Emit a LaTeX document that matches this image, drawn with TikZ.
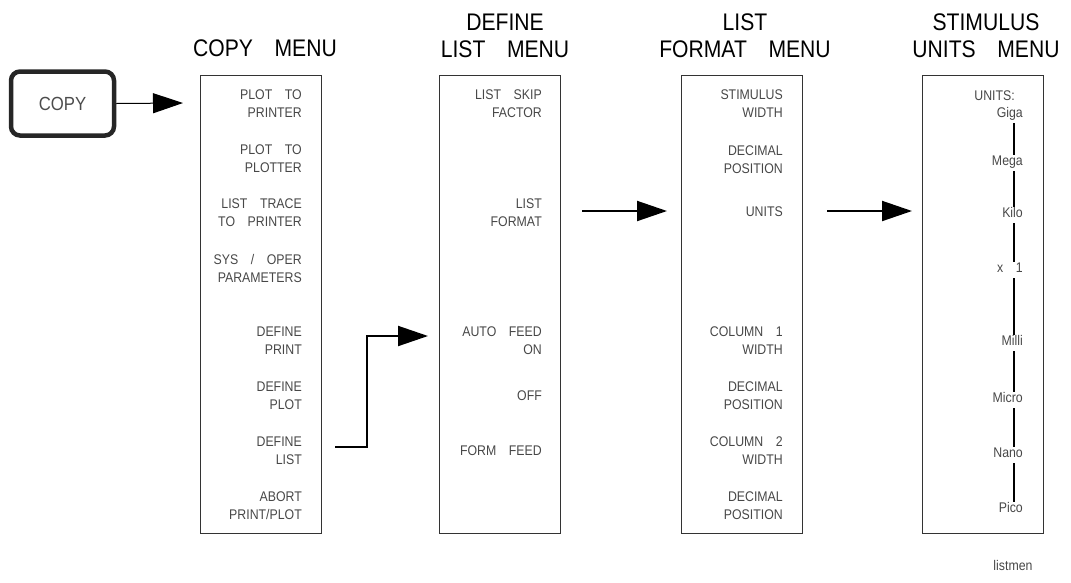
\documentclass[tikz,border=0pt]{standalone}
\usepackage{fontspec}
\usetikzlibrary{arrows.meta}
\newfontfamily\hpfont[FakeStretch=0.88]{Liberation Sans}
\newcommand\titlefont{\hpfont\fontsize{24}{26.5}\selectfont}
\newcommand\keyfont{\hpfont\fontsize{14}{18}\selectfont}
\newcommand\wsp{\hspace{0.9em}}
\begin{document}
\begin{tikzpicture}[x=1pt,y=-1pt,
  menubox/.style={draw=black!80, line width=1.3pt, minimum width=121pt, minimum height=458pt, anchor=north west, inner sep=0pt},
  title/.style={font=\titlefont, align=center, inner sep=0pt, anchor=north, text=black},
  key/.style={font=\keyfont, align=right, inner sep=0pt, anchor=north east, text=black!72},
  unit/.style={font=\keyfont, inner sep=0pt, anchor=north east, text=black!72, text height=10pt, text depth=3pt},
  copykey/.style={draw=black!85, line width=4.5pt, rounded corners=9pt, minimum width=103pt, minimum height=64pt,
    font=\hpfont\fontsize{19}{19}\selectfont, text=black!70, inner sep=0pt},
  bigarrow/.style={line width=2pt, -{Triangle[length=30pt,width=20pt]}},
  thinarrow/.style={line width=1pt, -{Triangle[length=30pt,width=20pt]}},
  scale line/.style={line width=1.3pt, black}]
\useasboundingbox (0,0) rectangle (1071,582);

% titles
\node[title] (t1) at (265,40) {COPY\wsp MENU};
\node[title] (t2) at (505,14) {DEFINE\\LIST\wsp MENU};
\node[title] (t3) at (745,14) {LIST\\FORMAT\wsp MENU};
\node[title] (t4) at (986,14) {STIMULUS\\UNITS\wsp MENU};

% hardkey
\node[copykey] (copy) at (62.5,103.5) {COPY};

% menu boxes
\node[menubox] (m1) at (200,75) {};
\node[menubox] (m2) at (439,75) {};
\node[menubox] (m3) at (681,75) {};
\node[menubox] (m4) at (922,75) {};

% COPY MENU
\node[key] (c1) at (302,90)  {PLOT\wsp TO\\PRINTER};
\node[key] (c2) at (302,145) {PLOT\wsp TO\\PLOTTER};
\node[key] (c3) at (302,199) {LIST\wsp TRACE\\TO\wsp PRINTER};
\node[key] (c4) at (302,254) {SYS\wsp /\wsp OPER\\PARAMETERS};
\node[key] (c5) at (302,327) {DEFINE\\PRINT};
\node[key] (c6) at (302,382) {DEFINE\\PLOT};
\node[key] (c7) at (302,437) {DEFINE\\LIST};
\node[key] (c8) at (302,492) {ABORT\\PRINT/PLOT};

% DEFINE LIST MENU
\node[key] (d1) at (542,90)  {LIST\wsp SKIP\\FACTOR};
\node[key] (d3) at (542,199) {LIST\\FORMAT};
\node[key] (d5) at (542,327) {AUTO\wsp FEED\\ON};
\node[key] (d6) at (542,391) {OFF};
\node[key] (d7) at (542,446) {FORM\wsp FEED};

% LIST FORMAT MENU
\node[key] (f1) at (783,90)  {STIMULUS\\WIDTH};
\node[key] (f2) at (783,146) {DECIMAL\\POSITION};
\node[key] (f3) at (783,207) {UNITS};
\node[key] (f5) at (783,327) {COLUMN\wsp 1\\WIDTH};
\node[key] (f6) at (783,382) {DECIMAL\\POSITION};
\node[key] (f7) at (783,437) {COLUMN\wsp 2\\WIDTH};
\node[key] (f8) at (783,492) {DECIMAL\\POSITION};

% STIMULUS UNITS MENU
\node[unit] (u0) at (1015,90)  {UNITS:};
\node[unit] (u1) at (1023,107) {Giga};
\node[unit] (u2) at (1023,155) {Mega};
\node[unit] (u3) at (1023,207) {Kilo};
\node[unit] (u4) at (1023,262) {x\wsp 1};
\node[unit] (u5) at (1023,335) {Milli};
\node[unit] (u6) at (1023,392) {Micro};
\node[unit] (u7) at (1023,447) {Nano};
\node[unit] (u8) at (1023,502) {Pico};

\coordinate (vx) at (1014,0);
\foreach \a/\b in {u1/u2,u2/u3,u3/u4,u4/u5,u5/u6,u6/u7,u7/u8}
  \draw[scale line, shorten <=3pt] (\a.south -| vx) -- (\b.north -| vx);

% connectors
\coordinate (a1) at (183,103);
\draw[thinarrow] (copy.east) -- (a1);

\coordinate (b0) at (335,447);
\coordinate (b1) at (428,336);
\draw[bigarrow] (b0) -- ++(32,0) |- (b1);

\coordinate (e0) at (582,211);
\coordinate (e1) at (667,211);
\draw[bigarrow] (e0) -- (e1);

\coordinate (g0) at (827,211);
\coordinate (g1) at (912,211);
\draw[bigarrow] (g0) -- (g1);

% file name
\node[font=\keyfont, text=black!72, inner sep=0pt, anchor=base] (fname) at (1013,570) {listmen};
\end{tikzpicture}
\end{document}
